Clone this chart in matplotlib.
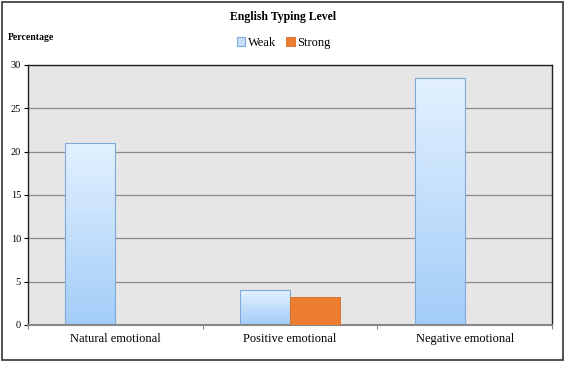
import numpy as np
import matplotlib.pyplot as plt
from matplotlib.patches import Rectangle
from matplotlib.colors import LinearSegmentedColormap

plt.rcParams['font.family'] = ['Liberation Serif', 'DejaVu Serif']

# data
categories = ["Natural emotional", "Positive emotional", "Negative emotional"]
weak = [21.0, 4.0, 28.5]
strong = [0.0, 3.2, 0.0]

fig = plt.figure(figsize=(5.67, 3.66), dpi=100)
ax = fig.add_axes([28 / 567, 1 - 325 / 366, 524 / 567, 260 / 366])

x = np.arange(len(categories))
w = 0.286

weak_bars = ax.bar(x - w / 2, weak, w, color='none', edgecolor='#7ea9d8', linewidth=0.8, zorder=3)
ax.bar(x + w / 2, strong, w, color='#ed7d31', edgecolor='#d86a20', linewidth=0.6, zorder=3)

# gradient fill for weak bars
cmap = LinearSegmentedColormap.from_list('wk', ['#a3cdf8', '#e3f1ff'])
grad = np.linspace(0, 1, 256).reshape(-1, 1)
for b in weak_bars:
    bx, by = b.get_x(), b.get_y()
    im = ax.imshow(grad, cmap=cmap, origin='lower', aspect='auto',
                   extent=[bx, bx + b.get_width(), by, by + b.get_height()], zorder=2)
    im.set_clip_path(b)

ax.set_xlim(-0.5, 2.5)
ax.set_ylim(0, 30)
ax.set_facecolor('#e6e6e6')
ax.set_yticks([0, 5, 10, 15, 20, 25, 30])
ax.yaxis.grid(True, color='#8a8a8a', linewidth=0.9)
ax.set_axisbelow(True)

ax.set_xticks([-0.5, 0.5, 1.5, 2.5])
ax.set_xticklabels([])
ax.set_xticks(x, minor=True)
ax.set_xticklabels(categories, minor=True, fontsize=9)
ax.tick_params(axis='x', which='minor', length=0, pad=6)
ax.tick_params(axis='x', which='major', length=3, color='#888888')
ax.tick_params(axis='y', labelsize=7.5, length=3, pad=2)
for s in ax.spines.values():
    s.set_color('#222222')
    s.set_linewidth(1.0)
ax.spines['bottom'].set_color('#888888')
ax.spines['bottom'].set_linewidth(1.5)

fig.text(0.5, 1 - 17 / 366, "English Typing Level", ha='center', va='center',
         fontsize=8.5, fontweight='bold')
fig.text(8 / 567, 1 - 37 / 366, "Percentage", ha='left', va='center',
         fontsize=7, fontweight='bold')

handles = [Rectangle((0, 0), 1, 1, facecolor='#c6e0fb', edgecolor='#7ea9d8', linewidth=0.8),
           Rectangle((0, 0), 1, 1, facecolor='#ed7d31', edgecolor='#d86a20', linewidth=0.6)]
fig.legend(handles, ["Weak", "Strong"], loc='center', bbox_to_anchor=(0.5, 1 - 43 / 366),
           ncol=2, frameon=False, fontsize=9, handlelength=0.7, handleheight=0.7,
           handletextpad=0.2, columnspacing=0.8)

fig.patches.append(Rectangle((2 / 567, 1 - 360 / 366), 561 / 567, 358 / 366,
                             transform=fig.transFigure, fill=False,
                             edgecolor='#333333', linewidth=1.2))

fig.savefig('out.png', dpi=100)
